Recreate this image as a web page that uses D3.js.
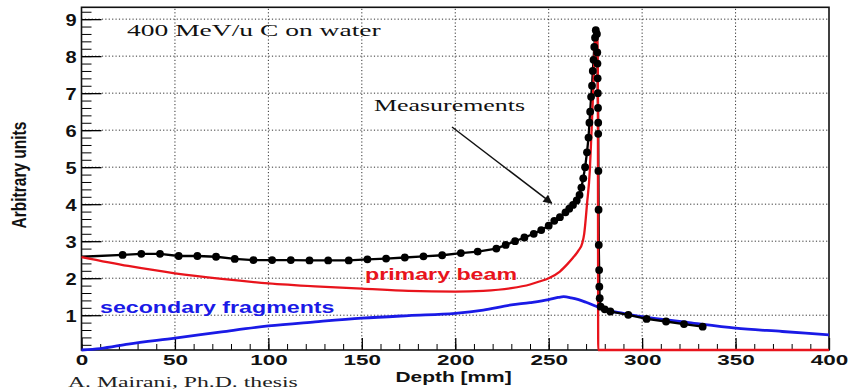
<!DOCTYPE html>
<html>
<head>
<meta charset="utf-8">
<script src="https://cdn.jsdelivr.net/npm/d3@7"></script>
<style>
  body { margin: 0; background: #fff; }
  svg { display: block; }
</style>
</head>
<body>
<div id="chart"></div>
<script>
// Bragg curve, 400 MeV/u carbon on water
var xTicks = [0, 50, 100, 150, 200, 250, 300, 350, 400];
var yTicks = [1, 2, 3, 4, 5, 6, 7, 8, 9];

// measurements (black dots)
var measDepth = [22, 32, 42, 52, 62, 72, 82, 92, 102, 112, 122, 132, 143, 153, 163, 173, 183, 193, 203, 212, 222,
    227, 232, 237, 242, 246, 250, 253, 256, 259, 261, 263, 265, 266.5, 267.5, 268.5,
    269.5, 270.5, 271.3, 271.8, 272.2, 272.7, 273.2, 273.6, 274, 274.4, 274.8, 275.2,
    275.8, 276, 276.1, 276.2, 276.3, 276.4, 276.5, 276.5, 276.6, 276.7, 276.8, 277, 277.1, 277.3, 277.8,
    280, 283, 292.6, 302.4, 312.8, 322.4, 332.4];
var measValue = [2.63, 2.66, 2.66, 2.6, 2.6, 2.58, 2.52, 2.49, 2.49, 2.49, 2.48, 2.48, 2.48, 2.51, 2.53, 2.56, 2.59, 2.62, 2.68, 2.72, 2.8,
    2.9, 3.0, 3.1, 3.2, 3.3, 3.42, 3.55, 3.65, 3.78, 3.88, 3.98, 4.1, 4.25, 4.45, 4.7,
    5.0, 5.4, 5.8, 6.2, 6.5, 6.9, 7.2, 7.6, 7.9, 8.25, 8.5, 8.7,
    8.6, 8.1, 7.8, 7.4, 7.0, 6.6, 6.2, 5.9, 4.9, 3.85, 2.9, 2.22, 1.77, 1.46, 1.23,
    1.16, 1.1, 1.01, 0.9, 0.83, 0.76, 0.69];
var lineStartDepth = 0, lineStartValue = 2.58;

// primary beam (red)
var primaryDepth = [0, 25, 50, 75, 100, 125, 150, 175, 200, 215, 230, 240, 245, 250, 256, 260, 263, 266, 268, 269,
    270.5, 272, 272.7, 273.2, 274, 274.8, 275.3, 275.9, 276.3, 276.5, 280, 400];
var primaryValue = [2.57, 2.33, 2.13, 1.98, 1.86, 1.78, 1.72, 1.66, 1.64, 1.66, 1.73, 1.83, 1.91, 2.0, 2.18, 2.38, 2.55, 2.75, 2.95, 3.2,
    4.0, 4.9, 5.7, 6.3, 7.3, 8.3, 8.75, 8.6, 7.5, 0, 0, 0];

// secondary fragments (blue)
var secondaryDepth = [0, 10, 25, 50, 75, 100, 125, 150, 175, 200, 215, 230, 240, 250, 255, 258, 262, 266, 270, 275,
    280, 290, 300, 325, 350, 375, 400];
var secondaryValue = [0, 0.1, 0.22, 0.38, 0.55, 0.71, 0.82, 0.92, 0.99, 1.05, 1.14, 1.28, 1.34, 1.42, 1.48, 1.5, 1.47, 1.42, 1.35, 1.25,
    1.15, 1.05, 0.96, 0.8, 0.65, 0.56, 0.47];

var width = 848, height = 390;
var plotLeft = 81.5, plotRight = 829, plotTop = 7.3, plotBottom = 350;

var svg = d3.select('#chart').append('svg')
    .attr('width', width)
    .attr('height', height);

var x = d3.scaleLinear().domain([0, 400]).range([plotLeft, plotRight]);
var y = d3.scaleLinear().domain([0.06, 9.32]).range([plotBottom, plotTop]).clamp(true);

var sans = 'Liberation Sans, Arial, sans-serif';
var serif = 'Liberation Serif, Times New Roman, serif';

// text squeezed wider like the original scan
function stretchText(parent, px, py, str, sx) {
    return parent.append('text')
        .attr('transform', 'translate(' + px + ',' + py + ') scale(' + sx + ',1)')
        .text(str);
}

// grid
var grid = svg.append('g')
    .attr('stroke', '#333')
    .attr('stroke-width', 1)
    .attr('stroke-dasharray', '1.2,2.2');
grid.selectAll('line.gx')
    .data(xTicks.filter(function (d) { return d > 0 && d < 400; }))
    .enter().append('line')
    .attr('x1', function (d) { return x(d); })
    .attr('x2', function (d) { return x(d); })
    .attr('y1', plotBottom)
    .attr('y2', plotTop);
grid.selectAll('line.gy')
    .data(yTicks)
    .enter().append('line')
    .attr('x1', plotLeft)
    .attr('x2', plotRight)
    .attr('y1', function (d) { return y(d); })
    .attr('y2', function (d) { return y(d); });

// axes with inward ticks
var xMinor = d3.range(0, 401, 10);
var yMinor = d3.range(0.2, 9.3, 0.2);

svg.append('g')
    .attr('transform', 'translate(0,' + plotBottom + ')')
    .call(d3.axisBottom(x).tickValues(xMinor).tickSize(-6).tickFormat(''))
    .call(function (g) { g.select('.domain').remove(); });

var xAxis = svg.append('g')
    .attr('transform', 'translate(0,' + plotBottom + ')')
    .call(d3.axisBottom(x).tickValues(xTicks).tickSize(-12).tickFormat(d3.format('d')));
xAxis.select('.domain').remove();
xAxis.selectAll('text')
    .attr('y', 15.5)
    .attr('dy', 0)
    .attr('transform', 'scale(1.45,1)')
    .attr('font-family', sans)
    .attr('font-weight', 'bold')
    .attr('font-size', 15.5)
    .attr('fill', '#111');
xAxis.selectAll('line').attr('stroke-width', 1.3);

svg.append('g')
    .attr('transform', 'translate(' + plotLeft + ',0)')
    .call(d3.axisLeft(y).tickValues(yMinor).tickSize(-10).tickFormat(''))
    .call(function (g) { g.select('.domain').remove(); });

var yAxis = svg.append('g')
    .attr('transform', 'translate(' + plotLeft + ',0)')
    .call(d3.axisLeft(y).tickValues(yTicks).tickSize(-20).tickPadding(4).tickFormat(d3.format('d')));
yAxis.select('.domain').remove();
yAxis.selectAll('text')
    .attr('transform', 'scale(1.25,1)')
    .attr('dy', '0.4em')
    .attr('font-family', sans)
    .attr('font-weight', 'bold')
    .attr('font-size', 16)
    .attr('fill', '#111');
yAxis.selectAll('line').attr('stroke-width', 1.3);

// frame
svg.append('rect')
    .attr('x', plotLeft)
    .attr('y', plotTop)
    .attr('width', plotRight - plotLeft)
    .attr('height', plotBottom - plotTop)
    .attr('fill', 'none')
    .attr('stroke', '#111')
    .attr('stroke-width', 1.6);

// curves
var line = d3.line()
    .x(function (d) { return x(d[0]); })
    .y(function (d) { return y(d[1]); });
var smooth = d3.line()
    .curve(d3.curveMonotoneX)
    .x(function (d) { return x(d[0]); })
    .y(function (d) { return y(d[1]); });

var secondary = d3.zip(secondaryDepth, secondaryValue);
var primary = d3.zip(primaryDepth, primaryValue);
var meas = d3.zip(measDepth, measValue);

svg.append('path')
    .datum(secondary)
    .attr('d', smooth)
    .attr('fill', 'none')
    .attr('stroke', '#1a1ae6')
    .attr('stroke-width', 2.8);

svg.append('path')
    .datum([[lineStartDepth, lineStartValue]].concat(meas))
    .attr('d', line)
    .attr('fill', 'none')
    .attr('stroke', '#000')
    .attr('stroke-width', 2.3);

svg.append('path')
    .datum(primary)
    .attr('d', smooth)
    .attr('fill', 'none')
    .attr('stroke', '#e8141c')
    .attr('stroke-width', 2.3);

svg.append('g')
    .selectAll('circle')
    .data(meas)
    .enter().append('circle')
    .attr('cx', function (d) { return x(d[0]); })
    .attr('cy', function (d) { return y(d[1]); })
    .attr('r', 3.9)
    .attr('fill', '#000');

// arrow to the measurements
svg.append('defs').append('marker')
    .attr('id', 'arrowHead')
    .attr('viewBox', '0 0 10 10')
    .attr('refX', 9)
    .attr('refY', 5)
    .attr('markerWidth', 13)
    .attr('markerHeight', 9)
    .attr('markerUnits', 'userSpaceOnUse')
    .attr('orient', 'auto')
    .append('path')
    .attr('d', 'M0,0 L10,5 L0,10 Z')
    .attr('fill', '#111');

svg.append('line')
    .attr('x1', 452)
    .attr('y1', 127)
    .attr('x2', x(250) + 3)
    .attr('y2', y(4) - 1)
    .attr('stroke', '#111')
    .attr('stroke-width', 1.5)
    .attr('marker-end', 'url(#arrowHead)');

// labels
var labels = svg.append('g');

stretchText(labels, 127, 36, '400 MeV/u C on water', 1.72)
    .attr('font-family', serif)
    .attr('font-size', 16)
    .attr('fill', '#111');

stretchText(labels, 374, 111, 'Measurements', 1.62)
    .attr('font-family', serif)
    .attr('font-size', 16)
    .attr('fill', '#111');

stretchText(labels, 365, 280, 'primary beam', 1.45)
    .attr('font-family', sans)
    .attr('font-weight', 'bold')
    .attr('font-size', 16)
    .attr('fill', '#e8141c');

stretchText(labels, 100, 313, 'secondary fragments', 1.45)
    .attr('font-family', sans)
    .attr('font-weight', 'bold')
    .attr('font-size', 16)
    .attr('fill', '#1a1ae6');

stretchText(labels, 453.5, 382, 'Depth [mm]', 1.35)
    .attr('text-anchor', 'middle')
    .attr('font-family', sans)
    .attr('font-weight', 'bold')
    .attr('font-size', 15.5)
    .attr('fill', '#111');

labels.append('text')
    .attr('transform', 'translate(26,175) rotate(-90) scale(1,1.3)')
    .attr('text-anchor', 'middle')
    .attr('font-family', sans)
    .attr('font-weight', 'bold')
    .attr('font-size', 15.5)
    .attr('fill', '#111')
    .text('Arbitrary units');

stretchText(labels, 68, 387, 'A. Mairani, Ph.D. thesis', 1.58)
    .attr('font-family', serif)
    .attr('font-size', 15)
    .attr('fill', '#222');
</script>
</body>
</html>
